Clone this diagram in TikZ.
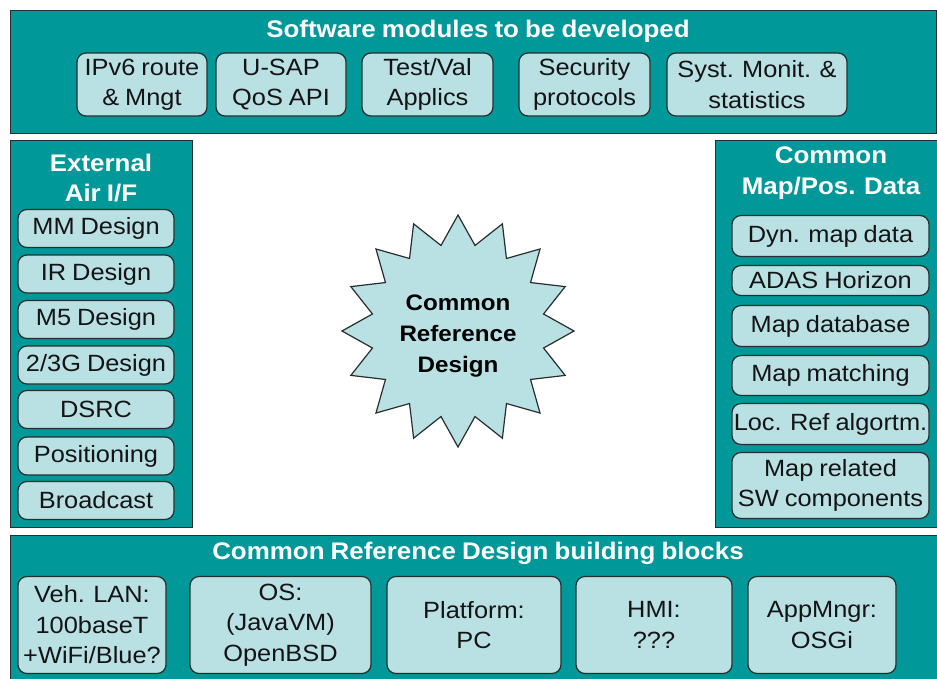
\documentclass[tikz,border=0pt]{standalone}
\usepackage{fontspec}
\setmainfont[FakeStretch=1.08,WordSpace=0.85]{Liberation Sans}
\usetikzlibrary{shapes.geometric}
\definecolor{teal1}{RGB}{0,152,152}
\definecolor{lightbox}{RGB}{185,224,227}
\definecolor{edge}{RGB}{40,45,45}
\tikzset{
  panel/.style={fill=teal1, draw=edge, line width=1.3pt},
  item/.style={fill=lightbox, draw=edge, line width=1.2pt, rounded corners=9pt, align=center,
    inner sep=0pt, font=\fontsize{23.5}{30.5}\selectfont, text=black!92},
  ptitle/.style={text=white, align=center, inner sep=0pt, font=\fontsize{24}{30.5}\selectfont\bfseries},
}
\begin{document}
\begin{tikzpicture}[x=1pt,y=-1pt]
\useasboundingbox (0,0) rectangle (937,678);
% panels
\node[panel, minimum width=926pt, minimum height=123pt, anchor=north west, inner sep=0pt] (ptop) at (10,10) {};
\node[panel, minimum width=182pt, minimum height=387pt, anchor=north west, inner sep=0pt] (pleft) at (10,140) {};
\node[panel, minimum width=222pt, minimum height=387pt, anchor=north west, inner sep=0pt] (pright) at (715,140) {};
\node[panel, minimum width=927pt, minimum height=150pt, anchor=north west, inner sep=0pt] (pbot) at (10,535) {};
% titles
\node[ptitle] (ttop) at (478,31) {Software modules to be developed};
\node[ptitle] (tleft) at (101,178) {External\\Air I/F};
\node[ptitle] (tright) at (831,173) {Common\\Map/Pos. Data};
\node[ptitle] (tbot) at (478,553) {Common Reference Design building blocks};
% top boxes
\node[item, minimum width=130pt, minimum height=63pt] (ipv6) at (142,84.5) {IPv6 route\\\& Mngt};
\node[item, minimum width=130pt, minimum height=63pt] (usap) at (281,84.5) {U-SAP\\QoS API};
\node[item, minimum width=131pt, minimum height=63pt] (test) at (427.5,84.5) {Test/Val\\Applics};
\node[item, minimum width=131pt, minimum height=63pt] (secu) at (584.5,84.5) {Security\\protocols};
\node[item, minimum width=180pt, minimum height=63pt] (syst) at (757,84.5) {Syst. Monit. \&\\statistics};
% left boxes
\node[item, minimum width=156pt, minimum height=38pt] (mm) at (96,228.5) {MM Design};
\node[item, minimum width=156pt, minimum height=38pt] (ir) at (96,274) {IR Design};
\node[item, minimum width=156pt, minimum height=38pt] (m5) at (96,319.5) {M5 Design};
\node[item, minimum width=156pt, minimum height=38pt] (g23) at (96,365) {2/3G Design};
\node[item, minimum width=156pt, minimum height=38pt] (dsrc) at (96,409.5) {DSRC};
\node[item, minimum width=156pt, minimum height=38pt] (posi) at (96,456) {Positioning};
\node[item, minimum width=156pt, minimum height=38pt] (broad) at (96,500.5) {Broadcast};
% right boxes
\node[item, minimum width=197pt, minimum height=41pt] (dyn) at (830.5,236) {Dyn. map data};
\node[item, minimum width=197pt, minimum height=30pt] (adas) at (830.5,280.5) {ADAS Horizon};
\node[item, minimum width=197pt, minimum height=41pt] (mapdb) at (830.5,326) {Map database};
\node[item, minimum width=197pt, minimum height=40pt] (mapm) at (830.5,375.5) {Map matching};
\node[item, minimum width=197pt, minimum height=41pt] (locref) at (830.5,424) {Loc. Ref algortm.};
\node[item, minimum width=197pt, minimum height=66pt] (maprel) at (830.5,485.5) {Map related\\SW components};
% bottom boxes
\node[item, minimum width=148pt, minimum height=97pt] (veh) at (92,625) {Veh. LAN:\\100baseT\\+WiFi/Blue?};
\node[item, minimum width=181pt, minimum height=97pt] (os) at (280.5,625) {OS:\\(JavaVM)\\OpenBSD};
\node[item, minimum width=174pt, minimum height=97pt] (plat) at (474,625) {Platform:\\PC};
\node[item, minimum width=156pt, minimum height=97pt] (hmi) at (654,625) {HMI:\\???};
\node[item, minimum width=148pt, minimum height=97pt] (appm) at (822,625) {AppMngr:\\OSGi};
% star
\node[star, star points=16, star point ratio=1.33, minimum size=232pt, inner sep=0pt,
  fill=lightbox, draw=edge, line width=1.2pt] (star) at (458,331) {};
\node[align=center, text=black, inner sep=0pt,
  font=\fontsize{22.4}{31}\selectfont\bfseries] (startext) at (458,336) {Common\\Reference\\Design};
\end{tikzpicture}
\end{document}
